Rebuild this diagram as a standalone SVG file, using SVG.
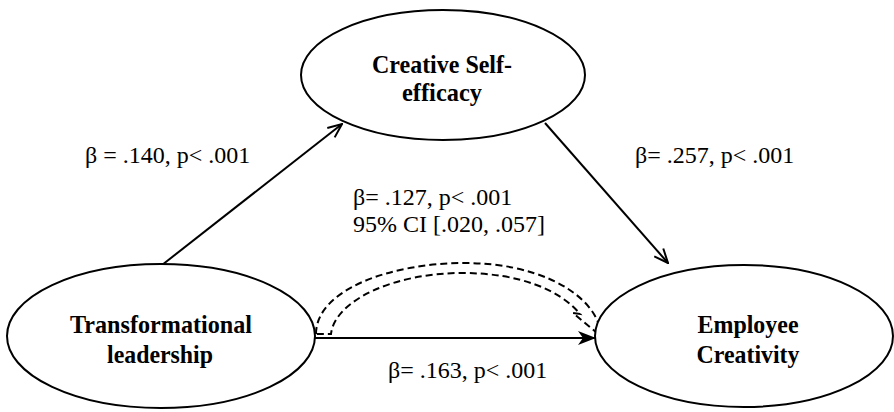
<svg xmlns="http://www.w3.org/2000/svg" width="894" height="412" viewBox="0 0 894 412">
<style>
.node{fill:#fff;stroke:#000;stroke-width:2}
.nt{font-family:"Liberation Serif","Times New Roman",serif;font-size:26px;font-weight:bold;text-anchor:middle;fill:#000}
.lb{font-family:"Liberation Serif","Times New Roman",serif;font-size:24px;fill:#000}
.ln{fill:none;stroke:#000;stroke-width:2}
.dash{fill:none;stroke:#000;stroke-width:2;stroke-dasharray:7 4}
</style>
<defs>
<marker id="open" viewBox="0 0 16 14" refX="15" refY="7" markerWidth="16" markerHeight="14" markerUnits="userSpaceOnUse" orient="auto">
<path d="M1,1 L15,7 L1,13" fill="none" stroke="#000" stroke-width="2"/>
</marker>
<marker id="solid" viewBox="0 0 18 14" refX="17" refY="7" markerWidth="18" markerHeight="14" markerUnits="userSpaceOnUse" orient="auto">
<path d="M0,0 L18,7 L0,14 L5,7 Z" fill="#000"/>
</marker>
</defs>
<rect width="894" height="412" fill="#fff"/>
<g id="connectors">
<line class="ln" x1="162" y1="265" x2="342" y2="124" marker-end="url(#open)"/>
<line class="ln" x1="545" y1="123" x2="668" y2="263" marker-end="url(#open)"/>
<line class="ln" x1="315" y1="338" x2="595" y2="338" marker-end="url(#solid)"/>
<path class="dash" d="M316,334 C316,290 390,263 465,263 C535,263 585,290 598,322 L597,333 L573,313 L580,314 C560,290 520,273 462,273 C395,273 335,300 331,334 Z"/>
</g>
<g id="node-cse">
<ellipse class="node" cx="443" cy="75" rx="142" ry="65"/>
<text class="nt" x="442" y="73" textLength="140" lengthAdjust="spacingAndGlyphs">Creative Self-</text>
<text class="nt" x="442" y="101" textLength="80" lengthAdjust="spacingAndGlyphs">efficacy</text>
</g>
<g id="node-tl">
<ellipse class="node" cx="161" cy="336" rx="154" ry="72"/>
<text class="nt" x="161" y="333" textLength="182" lengthAdjust="spacingAndGlyphs">Transformational</text>
<text class="nt" x="160" y="363" textLength="106" lengthAdjust="spacingAndGlyphs">leadership</text>
</g>
<g id="node-ec">
<ellipse class="node" cx="744" cy="336" rx="149" ry="71"/>
<text class="nt" x="748" y="333" textLength="101" lengthAdjust="spacingAndGlyphs">Employee</text>
<text class="nt" x="748" y="363" textLength="103" lengthAdjust="spacingAndGlyphs">Creativity</text>
</g>
<g id="labels">
<text class="lb" x="85" y="163">β = .140, p&lt; .001</text>
<text class="lb" x="635" y="163">β= .257, p&lt; .001</text>
<text class="lb" x="353" y="205">β= .127, p&lt; .001</text>
<text class="lb" x="353" y="232">95% CI [.020, .057]</text>
<text class="lb" x="388" y="378">β= .163, p&lt; .001</text>
</g>
</svg>
